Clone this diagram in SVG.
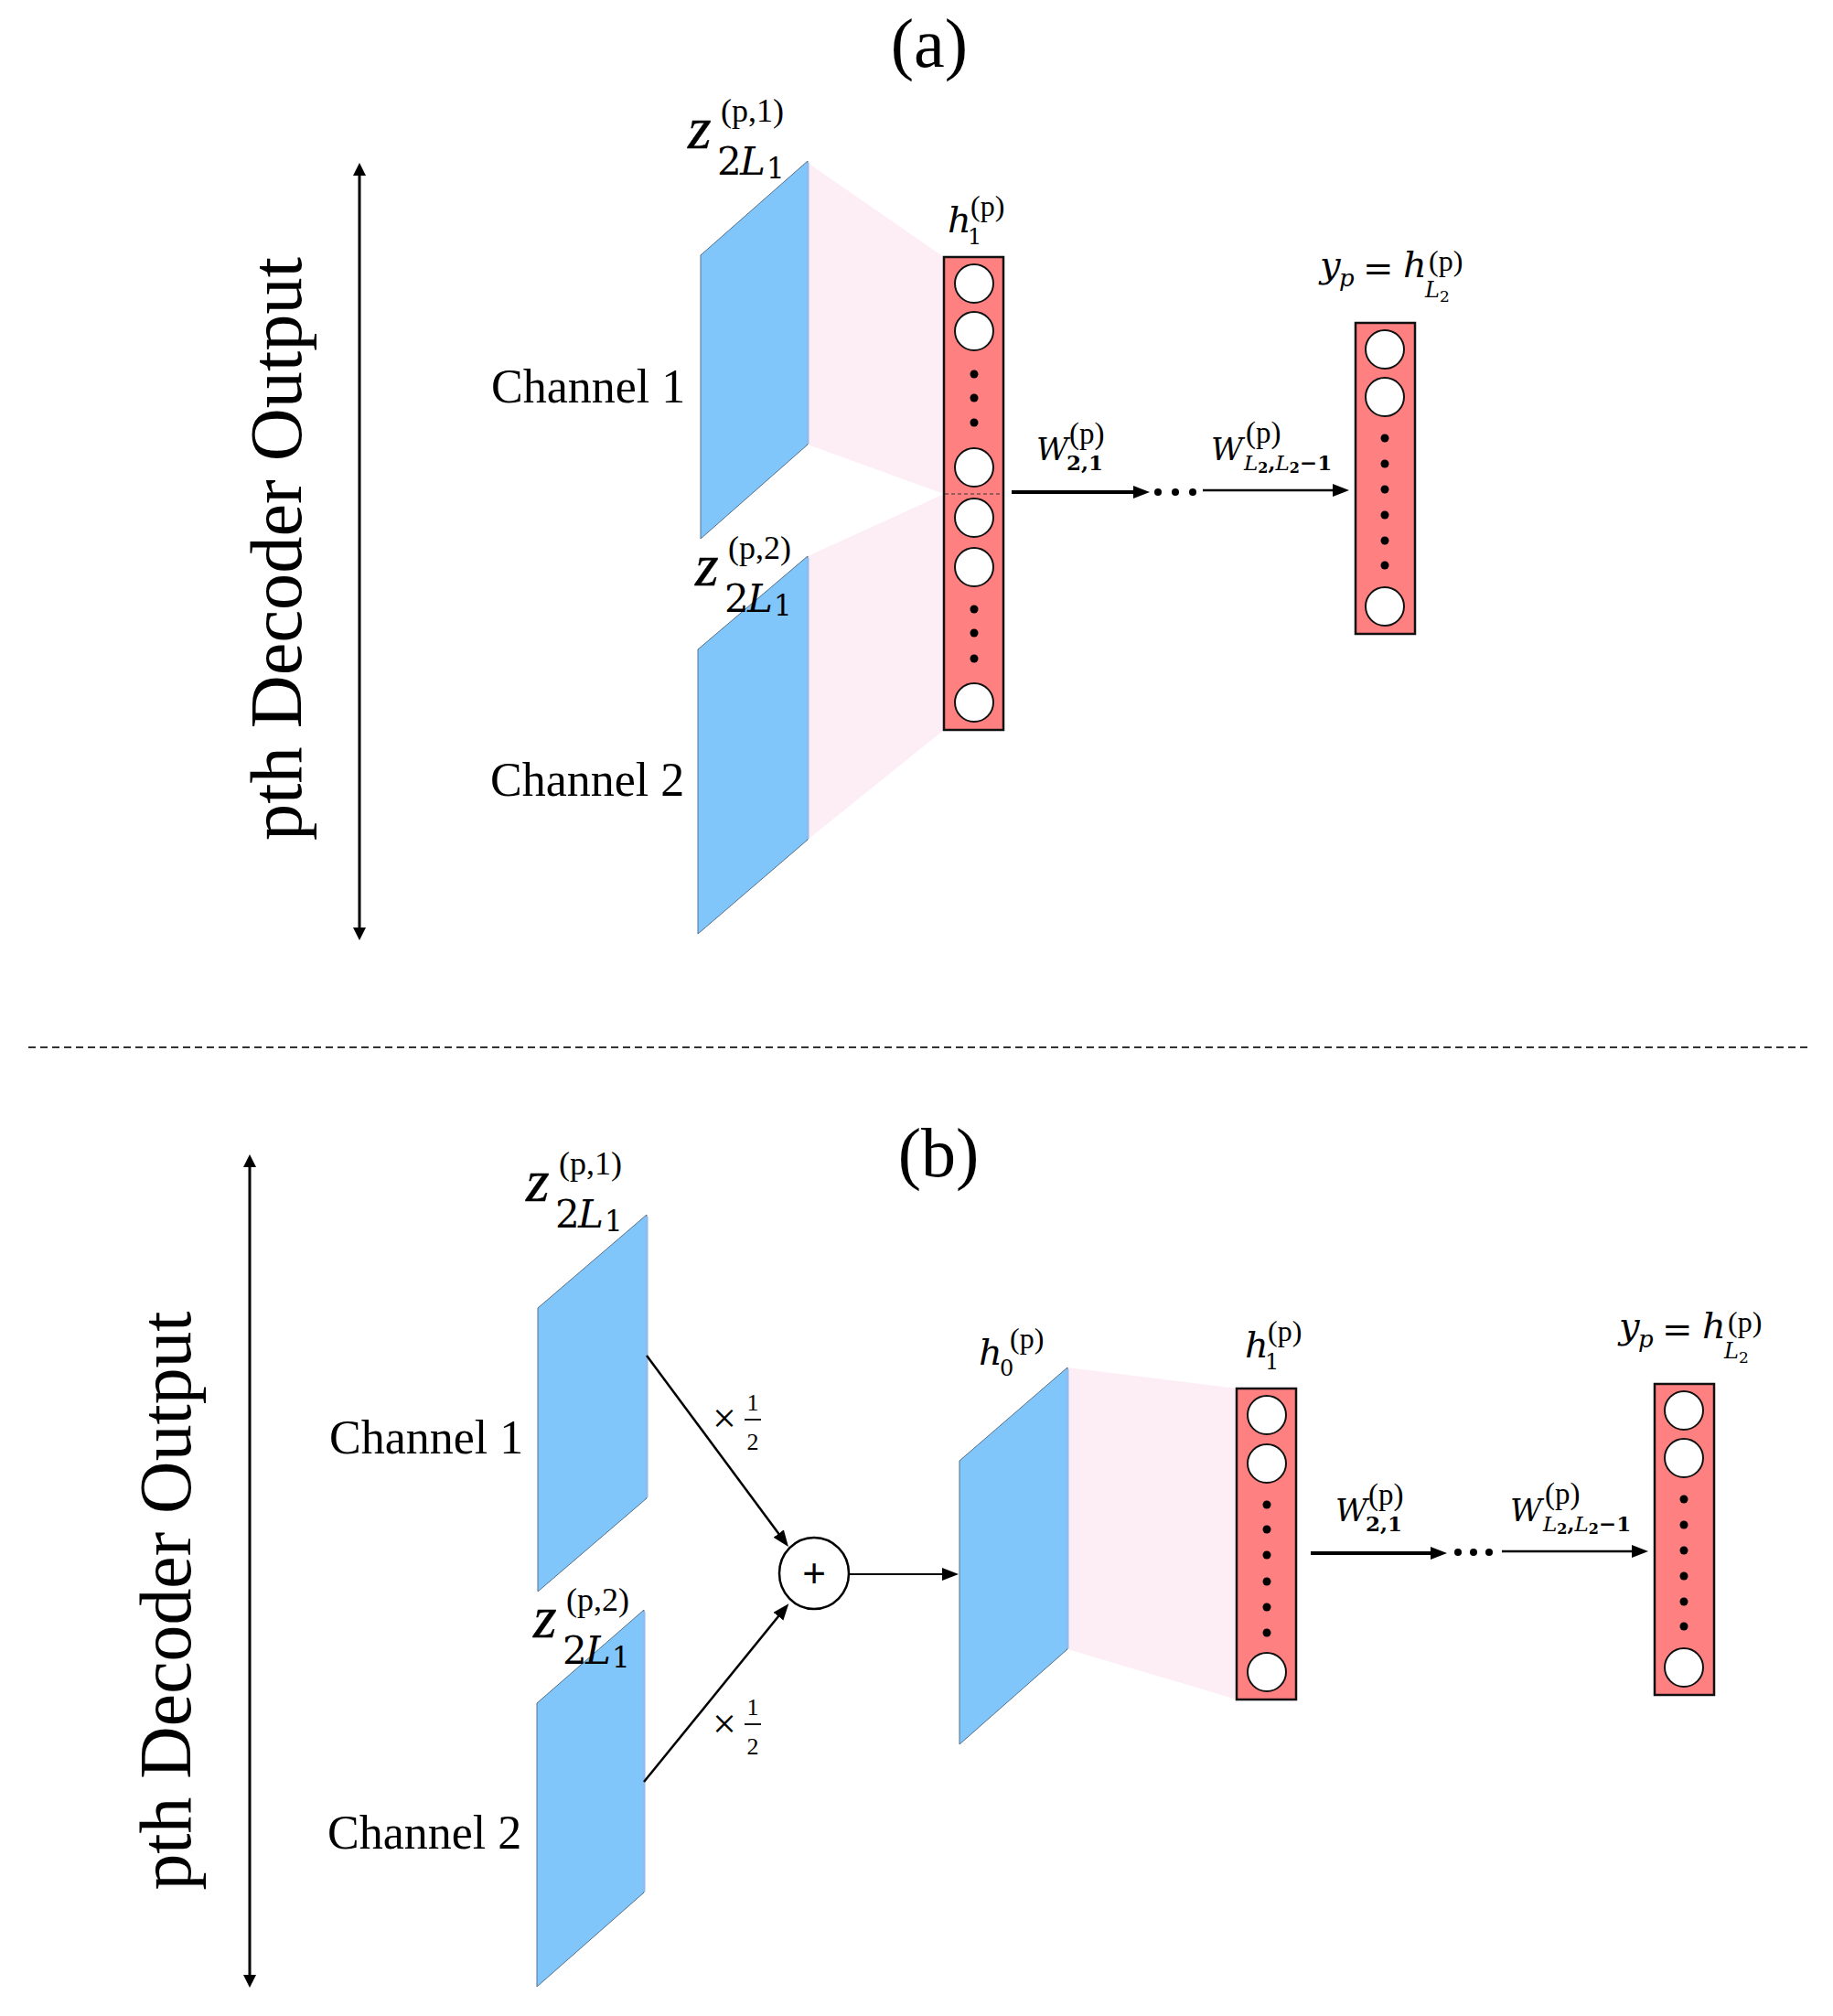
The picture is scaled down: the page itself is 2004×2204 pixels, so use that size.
<svg xmlns="http://www.w3.org/2000/svg" width="2004" height="2204" viewBox="0 0 2004 2204">
<style>
.serif{font-family:"Liberation Serif","Times New Roman",serif;fill:#000}
.math{font-family:"DejaVu Serif",serif;fill:#000}
.zz{font-family:"Liberation Serif","Times New Roman",serif;font-style:italic;fill:#000;stroke:#000;stroke-width:0.4}
.it{font-style:italic}
.blue{fill:#80C6FB;stroke:#55708a;stroke-width:1}
.edge{stroke:#8FBCF0;stroke-width:3}
.pink{fill:#FDEEF5}
.col{fill:#FF8080;stroke:#111;stroke-width:2.5}
.node{fill:#fff;stroke:#111;stroke-width:2}
.dot{fill:#000}
.ln{stroke:#000;fill:none}
</style>
<defs>
<marker id="ah" markerUnits="userSpaceOnUse" markerWidth="20" markerHeight="16" refX="8" refY="7" orient="auto"><path d="M0,0 L18,7 L0,14 z" fill="#000"/></marker>
<marker id="ahs" markerUnits="userSpaceOnUse" markerWidth="16" markerHeight="16" refX="6" refY="7" orient="auto-start-reverse"><path d="M0,0 L14,7 L0,14 z" fill="#000"/></marker>
</defs>
<rect width="2004" height="2204" fill="#fff"/>

<!-- titles -->
<text class="serif" x="1016" y="73" font-size="76" text-anchor="middle">(a)</text>
<text class="serif" x="1026" y="1286" font-size="76" text-anchor="middle">(b)</text>
<line x1="31" y1="1145" x2="1977" y2="1145" stroke="#333" stroke-width="2" stroke-dasharray="8 5"/>

<!-- side labels -->
<g id="side-a">
<text class="serif" transform="translate(329,600) rotate(-90)" font-size="80" text-anchor="middle" textLength="638" lengthAdjust="spacingAndGlyphs">pth Decoder Output</text>
</g>
<g id="side-b">
<text class="serif" transform="translate(208,1750) rotate(-90)" font-size="80" text-anchor="middle" textLength="633" lengthAdjust="spacingAndGlyphs">pth Decoder Output</text>
</g>

<!-- ===== (a) ===== -->
<g id="a-pink1"><polygon class="pink" points="883,178 1032,281 1032,540 883,486"/></g>
<g id="a-pink2"><polygon class="pink" points="883,608 1032,540 1032,798 883,918"/></g>

<g id="a-ch1">
<polygon class="blue" points="766,279 883,176 883,486 766,589"/>
<line class="edge" x1="883" y1="178" x2="883" y2="485"/>
<text class="serif" x="537" y="440" font-size="52">Channel 1</text>
<text class="zz" x="752" y="162" font-size="66">z</text>
<text class="math" x="784" y="191" font-size="42">2</text>
<text class="math it" x="809" y="191" font-size="42">L</text>
<text class="math" x="838" y="195" font-size="31">1</text>
<text class="serif" x="788" y="133" font-size="36">(p,1)</text>
</g>

<g id="a-ch2">
<polygon class="blue" points="763,710 883,608 883,918 763,1021"/>
<line class="edge" x1="883" y1="610" x2="883" y2="917"/>
<text class="serif" x="536" y="870" font-size="52">Channel 2</text>
<text class="zz" x="760" y="640" font-size="66">z</text>
<text class="math" x="792" y="669" font-size="42">2</text>
<text class="math it" x="817" y="669" font-size="42">L</text>
<text class="math" x="846" y="673" font-size="31">1</text>
<text class="serif" x="796" y="611" font-size="36">(p,2)</text>
</g>

<g id="a-h1">
<rect class="col" x="1032" y="281" width="65" height="517"/>
<line x1="1033" y1="540" x2="1096" y2="540" stroke="#333" stroke-width="1.2" stroke-dasharray="4 3"/>
<circle class="node" cx="1065" cy="310" r="21"/>
<circle class="node" cx="1065" cy="362" r="21"/>
<circle class="dot" cx="1065" cy="409" r="4.5"/>
<circle class="dot" cx="1065" cy="435" r="4.5"/>
<circle class="dot" cx="1065" cy="462" r="4.5"/>
<circle class="node" cx="1065" cy="511" r="21"/>
<circle class="node" cx="1065" cy="566" r="21"/>
<circle class="node" cx="1065" cy="620" r="21"/>
<circle class="dot" cx="1065" cy="666" r="4.5"/>
<circle class="dot" cx="1065" cy="692" r="4.5"/>
<circle class="dot" cx="1065" cy="720" r="4.5"/>
<circle class="node" cx="1065" cy="768" r="21"/>
<text class="math it" x="1036" y="254" font-size="40">h</text>
<text class="math" x="1058" y="267" font-size="24">1</text>
<text class="serif" x="1061" y="236" font-size="32">(p)</text>
</g>

<g id="a-out">
<rect class="col" x="1482" y="353" width="65" height="340"/>
<circle class="node" cx="1514" cy="382" r="21"/>
<circle class="node" cx="1514" cy="434" r="21"/>
<circle class="dot" cx="1514" cy="479" r="4.5"/>
<circle class="dot" cx="1514" cy="507" r="4.5"/>
<circle class="dot" cx="1514" cy="535" r="4.5"/>
<circle class="dot" cx="1514" cy="563" r="4.5"/>
<circle class="dot" cx="1514" cy="591" r="4.5"/>
<circle class="dot" cx="1514" cy="618" r="4.5"/>
<circle class="node" cx="1514" cy="663" r="21"/>
<text class="math it" x="1443" y="303" font-size="40">y</text>
<text class="math it" x="1464" y="313" font-size="26">p</text>
<text class="math" x="1490" y="307" font-size="40">=</text>
<text class="math it" x="1534" y="303" font-size="40">h</text>
<text class="math it" x="1558" y="325" font-size="24">L</text>
<text class="math" x="1574" y="330" font-size="17">2</text>
<text class="serif" x="1562" y="296" font-size="32">(p)</text>
</g>

<g id="a-labels">
<text class="math it" x="1133" y="503" font-size="34">W</text>
<text class="math" x="1166" y="514" font-size="23" font-weight="bold">2,1</text>
<text class="serif" x="1169" y="485" font-size="33">(p)</text>
<text class="math it" x="1324" y="503" font-size="34">W</text>
<text class="math" x="1360" y="514" font-size="23" font-weight="bold"><tspan font-style="italic" font-weight="normal">L</tspan><tspan font-size="16" dy="3">2</tspan><tspan dy="-3">,</tspan><tspan font-style="italic" font-weight="normal">L</tspan><tspan font-size="16" dy="3">2</tspan><tspan dy="-3">−1</tspan></text>
<text class="serif" x="1362" y="484" font-size="33">(p)</text>
</g>

<!-- ===== (b) ===== -->
<g id="b-pink"><polygon class="pink" points="1167,1495 1352,1518 1352,1858 1167,1803"/></g>

<g id="b-ch1">
<polygon class="blue" points="588,1430 707,1328 707,1638 588,1740"/>
<line class="edge" x1="707" y1="1330" x2="707" y2="1637"/>
<text class="serif" x="360" y="1589" font-size="52">Channel 1</text>
<text class="zz" x="575" y="1313" font-size="66">z</text>
<text class="math" x="607" y="1342" font-size="42">2</text>
<text class="math it" x="632" y="1342" font-size="42">L</text>
<text class="math" x="661" y="1346" font-size="31">1</text>
<text class="serif" x="611" y="1284" font-size="36">(p,1)</text>
</g>

<g id="b-ch2">
<polygon class="blue" points="587,1862 704,1760 704,2069 587,2172"/>
<line class="edge" x1="704" y1="1762" x2="704" y2="2068"/>
<text class="serif" x="358" y="2021" font-size="52">Channel 2</text>
<text class="zz" x="583" y="1790" font-size="66">z</text>
<text class="math" x="615" y="1819" font-size="42">2</text>
<text class="math it" x="640" y="1819" font-size="42">L</text>
<text class="math" x="669" y="1823" font-size="31">1</text>
<text class="serif" x="619" y="1761" font-size="36">(p,2)</text>
</g>

<g id="b-sum">
<ellipse cx="890" cy="1720" rx="38" ry="39" fill="#fff" stroke="#000" stroke-width="2.5"/>
<text x="890" y="1735" font-family="Liberation Sans, Arial, sans-serif" font-size="44" text-anchor="middle">+</text>
</g>

<g id="b-h0">
<polygon class="blue" points="1049,1597 1167,1495 1167,1803 1049,1907"/>
<line class="edge" x1="1167" y1="1497" x2="1167" y2="1802"/>
<text class="math it" x="1070" y="1492" font-size="40">h</text>
<text class="math" x="1093" y="1504" font-size="24">0</text>
<text class="serif" x="1104" y="1474" font-size="32">(p)</text>
</g>

<g id="b-h1">
<rect class="col" x="1352" y="1518" width="65" height="340"/>
<circle class="node" cx="1385" cy="1547" r="21"/>
<circle class="node" cx="1385" cy="1600" r="21"/>
<circle class="dot" cx="1385" cy="1645" r="4.5"/>
<circle class="dot" cx="1385" cy="1672" r="4.5"/>
<circle class="dot" cx="1385" cy="1700" r="4.5"/>
<circle class="dot" cx="1385" cy="1729" r="4.5"/>
<circle class="dot" cx="1385" cy="1757" r="4.5"/>
<circle class="dot" cx="1385" cy="1785" r="4.5"/>
<circle class="node" cx="1385" cy="1828" r="21"/>
<text class="math it" x="1361" y="1484" font-size="40">h</text>
<text class="math" x="1383" y="1497" font-size="24">1</text>
<text class="serif" x="1386" y="1466" font-size="32">(p)</text>
</g>

<g id="b-out">
<rect class="col" x="1809" y="1513" width="65" height="340"/>
<circle class="node" cx="1841" cy="1542" r="21"/>
<circle class="node" cx="1841" cy="1594" r="21"/>
<circle class="dot" cx="1841" cy="1639" r="4.5"/>
<circle class="dot" cx="1841" cy="1667" r="4.5"/>
<circle class="dot" cx="1841" cy="1695" r="4.5"/>
<circle class="dot" cx="1841" cy="1723" r="4.5"/>
<circle class="dot" cx="1841" cy="1751" r="4.5"/>
<circle class="dot" cx="1841" cy="1778" r="4.5"/>
<circle class="node" cx="1841" cy="1823" r="21"/>
<text class="math it" x="1770" y="1463" font-size="40">y</text>
<text class="math it" x="1791" y="1473" font-size="26">p</text>
<text class="math" x="1817" y="1467" font-size="40">=</text>
<text class="math it" x="1861" y="1463" font-size="40">h</text>
<text class="math it" x="1885" y="1485" font-size="24">L</text>
<text class="math" x="1901" y="1490" font-size="17">2</text>
<text class="serif" x="1889" y="1456" font-size="32">(p)</text>
</g>

<g id="b-labels">
<text class="math it" x="1460" y="1663" font-size="34">W</text>
<text class="math" x="1493" y="1674" font-size="23" font-weight="bold">2,1</text>
<text class="serif" x="1496" y="1645" font-size="33">(p)</text>
<text class="math it" x="1651" y="1663" font-size="34">W</text>
<text class="math" x="1687" y="1674" font-size="23" font-weight="bold"><tspan font-style="italic" font-weight="normal">L</tspan><tspan font-size="16" dy="3">2</tspan><tspan dy="-3">,</tspan><tspan font-style="italic" font-weight="normal">L</tspan><tspan font-size="16" dy="3">2</tspan><tspan dy="-3">−1</tspan></text>
<text class="serif" x="1689" y="1644" font-size="33">(p)</text>
<text class="serif" x="792" y="1566" font-size="46" text-anchor="middle">×</text>
<text class="serif" x="823" y="1542" font-size="26" text-anchor="middle">1</text>
<line x1="814" y1="1552" x2="832" y2="1552" stroke="#000" stroke-width="1.8"/>
<text class="serif" x="823" y="1585" font-size="26" text-anchor="middle">2</text>
<text class="serif" x="792" y="1900" font-size="46" text-anchor="middle">×</text>
<text class="serif" x="823" y="1875" font-size="26" text-anchor="middle">1</text>
<line x1="814" y1="1885" x2="832" y2="1885" stroke="#000" stroke-width="1.8"/>
<text class="serif" x="823" y="1918" font-size="26" text-anchor="middle">2</text>
</g>

<!-- connectors -->
<g id="connectors">
<line class="ln" x1="393" y1="186" x2="393" y2="1020" stroke-width="3" marker-start="url(#ahs)" marker-end="url(#ahs)"/>
<line class="ln" x1="273" y1="1270" x2="273" y2="2165" stroke-width="3" marker-start="url(#ahs)" marker-end="url(#ahs)"/>
<line class="ln" x1="1106" y1="538" x2="1247" y2="538" stroke-width="4" marker-end="url(#ah)"/>
<circle class="dot" cx="1266" cy="538" r="4"/>
<circle class="dot" cx="1285" cy="538" r="4"/>
<circle class="dot" cx="1304" cy="538" r="4"/>
<line class="ln" x1="1315" y1="536" x2="1465" y2="536" stroke-width="2.5" marker-end="url(#ah)"/>
<line class="ln" x1="1433" y1="1698" x2="1572" y2="1698" stroke-width="4" marker-end="url(#ah)"/>
<circle class="dot" cx="1594" cy="1697" r="4"/>
<circle class="dot" cx="1611" cy="1697" r="4"/>
<circle class="dot" cx="1628" cy="1697" r="4"/>
<line class="ln" x1="1642" y1="1696" x2="1792" y2="1696" stroke-width="2.5" marker-end="url(#ah)"/>
<line class="ln" x1="707" y1="1482" x2="856" y2="1683" stroke-width="2.5" marker-end="url(#ah)"/>
<line class="ln" x1="704" y1="1948" x2="856" y2="1761" stroke-width="2.5" marker-end="url(#ah)"/>
<line class="ln" x1="928" y1="1721" x2="1038" y2="1721" stroke-width="2" marker-end="url(#ah)"/>
</g>
</svg>
